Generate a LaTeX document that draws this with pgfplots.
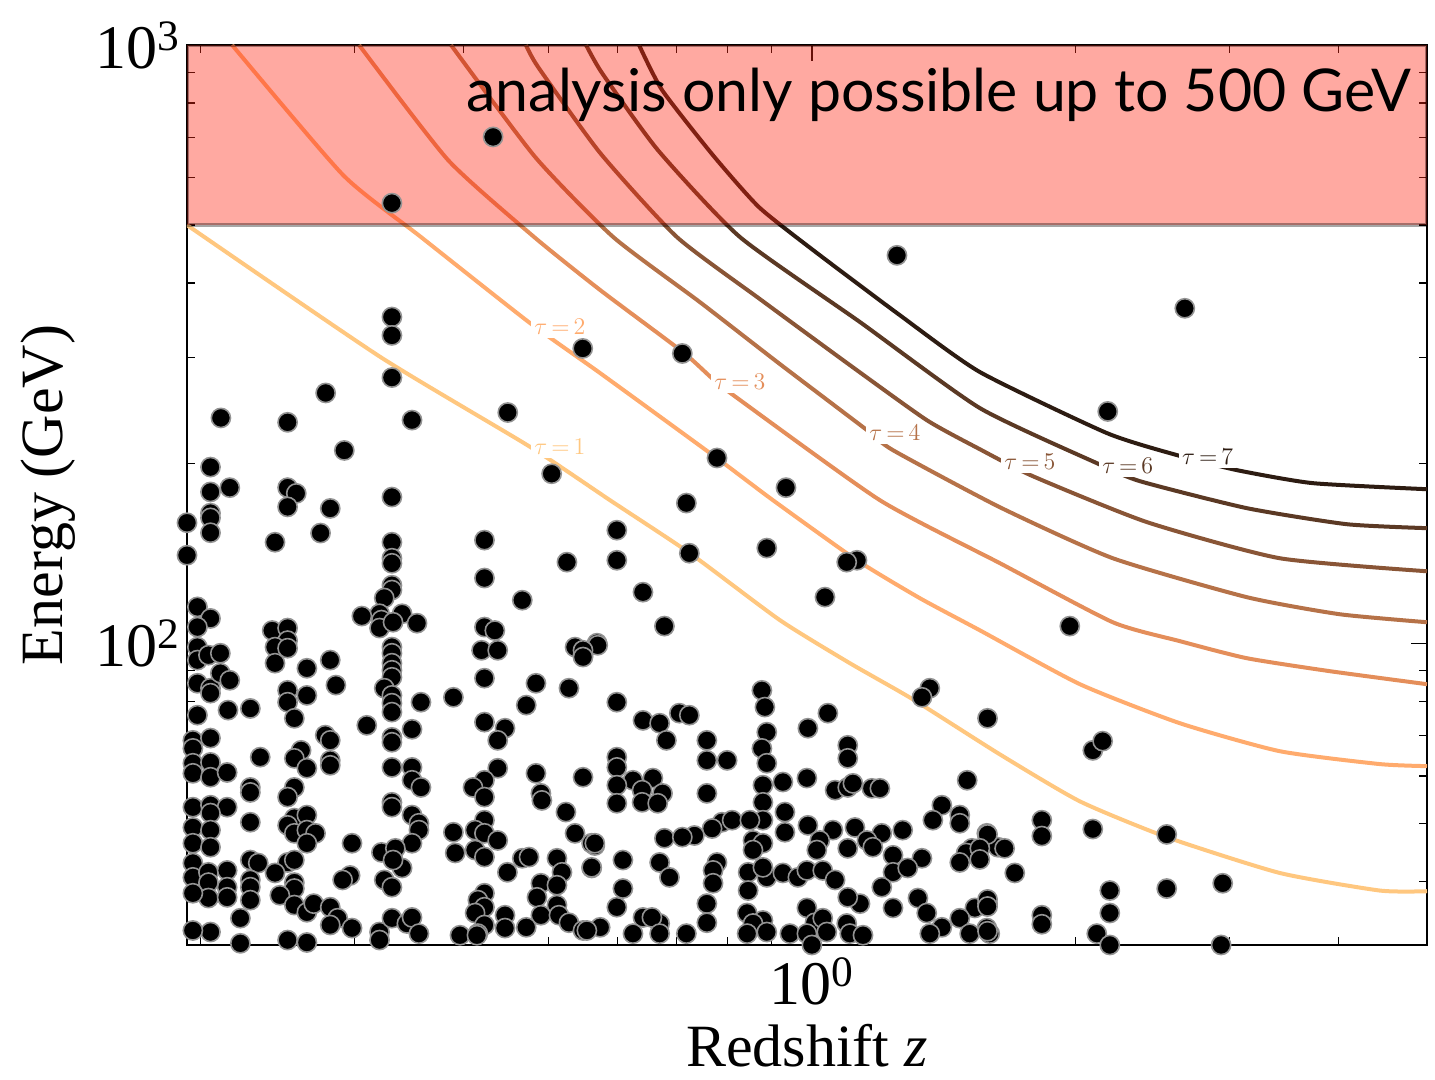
\documentclass[border=0pt]{standalone}
\usepackage[no-math]{fontspec}
\setmainfont{Liberation Serif}
\newfontfamily\gillfont{Lato}
\usepackage{pgfplots}
\pgfplotsset{compat=1.18}
\usetikzlibrary{calc}

\definecolor{tauA}{RGB}{255,199,127}
\definecolor{tauB}{RGB}{255,171,109}
\definecolor{tauC}{RGB}{228,142,90}
\definecolor{tauD}{RGB}{182,114,72}
\definecolor{tauE}{RGB}{137,85,54}
\definecolor{tauF}{RGB}{91,57,36}
\definecolor{tauG}{RGB}{45,28,18}
\definecolor{bandred}{RGB}{255,40,20}

\begin{document}
\begin{tikzpicture}
\begin{axis}[
  scale only axis,
  width=620pt, height=450pt,
  xmode=log, ymode=log,
  xmin=0.193, xmax=5.05,
  ymin=31.3, ymax=1000,
  xtick={1}, xticklabels={10\textsuperscript{0}},
  ytick={100,1000}, yticklabels={10\textsuperscript{2},10\textsuperscript{3}},
  minor xtick={0.2,0.3,0.4,0.5,0.6,0.7,0.8,0.9,2,3,4},
  minor ytick={40,50,60,70,80,90,200,300,400,500,600,700,800,900},
  major tick length=8pt, minor tick length=4pt,
  tick style={black, line width=0.6pt},
  axis line style={line width=1pt},
  tick align=inside,
  ticklabel style={font=\fontsize{31}{34}\selectfont},
  xticklabel style={yshift=-3pt},
  xlabel={Redshift \textit{z}},
  ylabel={Energy (GeV)},
  label style={font=\fontsize{30}{34}\selectfont},
  xlabel style={at={(axis description cs:0.5,-0.135)}, anchor=base, inner sep=1pt},
  ylabel style={at={(axis description cs:-0.112,0.5)}, anchor=center},
  clip=true,
  every axis plot/.append style={smooth, tension=0.35},
]
% tau contours
\addplot[tauA, line width=2pt] coordinates {(0.193,500) (0.321,301) (0.476,213) (0.5877,173.4) (0.7253,141.4) (0.919,109.3) (1.105,92.6) (1.304,80.6) (1.640,65.2) (2.025,54.4) (2.545,47.4) (3.426,41.3) (4.459,38.6) (5.05,38.5)};
\addplot[tauB, line width=2pt] coordinates {(0.2173,1000) (0.2911,606) (0.3573,477.5) (0.4762,342.8) (0.5727,282.8) (0.7786,203.9) (0.9025,173.4) (1.126,137.6) (1.329,118.9) (1.556,105.1) (2.025,85.4) (2.634,73.5) (3.426,66.0) (4.459,62.8) (5.05,62.3)};
\addplot[tauC, line width=2pt] coordinates {(0.3036,1000) (0.3837,642.3) (0.4813,477.5) (0.5727,389.4) (0.712,306.7) (0.7685,277.4) (0.8187,257.9) (1.196,173.4) (1.640,136.1) (2.208,108.4) (2.634,100.8) (3.141,94.4) (3.908,89.8) (5.05,85.4)};
\addplot[tauD, line width=2pt] coordinates {(0.3867,1000) (0.4826,649.7) (0.5927,477.5) (0.7447,371.7) (0.919,292.9) (1.156,227.1) (1.238,210.2) (1.640,168.8) (2.208,138.7) (3.141,119.4) (4.012,111.8) (5.05,108.4)};
\addplot[tauE, line width=2pt] coordinates {(0.471,1000) (0.4863,918.8) (0.5727,659.8) (0.7009,477.5) (0.872,376.1) (1.105,291.7) (1.353,236.0) (1.556,211.0) (1.789,190.2) (2.415,159.4) (3.426,138.7) (5.05,131.9)};
\addplot[tauF, line width=2pt] coordinates {(0.5518,1000) (0.5754,898) (0.6668,667) (0.8274,477.5) (1.135,344.2) (1.556,247.2) (2.117,200.0) (2.371,186.6) (3.141,168.2) (4.087,158.1) (5.05,155.7)};
\addplot[tauG, line width=2pt] coordinates {(0.6344,1000) (0.674,840.9) (0.7705,654.6) (0.8697,535.9) (1.003,454.1) (1.26,353.6) (1.556,284.0) (2.174,224.5) (2.613,206.3) (3.061,194.7) (3.737,185.2) (5.05,180.9)};
% sources
\addplot[only marks, mark=*, mark size=4.8pt, mark options={fill=black, draw=gray!85, line width=0.8pt}] coordinates {
(0.331,544) (0.432,702)
(1.251,445) (2.669,363) (0.331,351) (0.331,327) (0.547,311) (0.711,305) (0.331,278) (0.278,262) (0.449,243) (2.179,244) (0.211,238) (0.2515,234) (0.349,236) (0.292,210) (0.779,204) (0.2053,197) (0.504,192) (0.216,182) (0.934,182) (0.2053,179) (0.2515,182) (0.2573,178) (0.331,175.5) (0.7186,171.5) (0.2053,165) (0.2515,169) (0.2814,168) (0.193,159) (0.2053,162) (0.2053,153) (0.2433,147.5) (0.2743,152.8)
(0.331,147.5) (0.331,138.7) (0.331,136) (0.331,125) (0.331,122.7) (0.3244,119) (0.34,112) (0.3204,112) (0.322,109.3) (0.3204,106) (0.3058,111) (0.332,108.4) (0.3536,108)
(0.4223,148.7) (0.4223,128.5) (0.5247,136.6) (0.4665,118) (0.193,140.3) (0.1984,115) (0.2053,110) (0.1984,106.4) (0.2415,105) (0.2515,106) (0.2515,101) (0.2433,98.5) (0.2515,98.1) (0.2433,92.6) (0.4223,106.4) (0.434,105) (0.4191,97.3) (0.4373,97.3) (0.536,98.5) (0.5474,95.5) (0.568,100) (0.1984,98.5) (0.1984,93.7) (0.2042,95.5) (0.2107,96.2) (0.2814,93.7) (0.2646,90.8)
(0.331,98.5) (0.331,96.2) (0.331,92.6) (0.331,90.1) (0.331,87.7) (0.3244,84.1) (0.331,81.8) (0.331,79.4) (0.331,76.7) (0.331,69.6) (0.331,68.3)
(0.2856,85.1) (0.2515,83.4) (0.2515,79.7) (0.256,74.9) (0.2646,81.8) (0.4223,87.4) (0.4836,85.7) (0.5275,84.1) (0.1984,85.7) (0.2053,84.1) (0.2053,82.5) (0.2107,89.1) (0.216,86.7) (0.215,77.3) (0.228,77.8) (0.1984,75.8) (0.3573,79.7) (0.3892,81.2) (0.4714,78.8) (0.3098,72.9) (0.349,71.8) (0.4223,73.8) (0.4458,72.1) (0.4373,68.8) (0.196,68.8) (0.196,66.7) (0.2053,69.4) (0.2777,70.2) (0.2814,68.8) (0.234,64.5) (0.2606,66.2) (0.256,64.2) (0.2646,61.8) (0.2814,63.7) (0.2814,62.5) (0.331,62) (0.349,62) (0.349,59) (0.3573,57.4) (0.4836,60.6) (0.5474,59.7) (0.196,63) (0.196,60.6) (0.2053,63.2) (0.2053,59.7) (0.2145,60.8) (0.4373,61.8) (0.4223,59) (0.4097,57.4) (0.4223,55.3) (0.4899,56.1) (0.4912,54.6) (0.228,57.4) (0.228,56.3) (0.256,57.4) (0.2515,55.3) (0.331,54.2) (0.331,53.2) (0.5233,52.2) (0.196,53.2) (0.2053,53.6) (0.2145,53.2) (0.2053,52) (0.196,49.2) (0.2053,48.7) (0.196,46.3) (0.2053,45.6) (0.228,50.2) (0.256,51) (0.2646,51.6) (0.2515,49.6) (0.256,48.1) (0.2646,48.7) (0.2707,48.1) (0.2646,46.3) (0.349,51.6) (0.3554,50) (0.3554,48.7) (0.349,46.3) (0.4223,50.6) (0.412,48.7) (0.4223,48.1) (0.4373,46.8) (0.412,45.1) (0.4223,43.9) (0.3892,48.3) (0.391,44.6) (0.536,48.1) (0.5647,45.9) (0.298,46.3) (0.322,44.7) (0.334,45.4) (0.196,42.9) (0.196,40.6) (0.2042,41.4) (0.2042,39.8) (0.2145,41.7) (0.2145,39.1) (0.2042,37.5) (0.2145,37.6) (0.196,38.2) (0.228,43.4) (0.2328,42.9) (0.228,40.2) (0.228,39.1) (0.228,37.2) (0.2515,43) (0.256,43.4) (0.2433,41.3) (0.256,39.8) (0.256,38.9) (0.2464,37.9) (0.256,36.5) (0.2646,35.5) (0.2694,36.7) (0.2965,40.9) (0.2907,40.2) (0.3244,40.2) (0.331,39.1) (0.34,42.1) (0.332,43.4) (0.4665,43.7) (0.4749,43.9) (0.4486,41.4) (0.5111,43.7) (0.5179,41.4) (0.4899,39.7) (0.5111,39.4) (0.4849,37.6) (0.5111,36.5) (0.4899,35.1) (0.56,46.3) (0.56,42.1) (0.4223,38.2) (0.415,37.2) (0.4223,36.2) (0.412,35.4) (0.4223,33.8) (0.415,32.7) (0.4458,35.1) (0.4458,33.4) (0.4714,33.5) (0.5138,35.1) (0.5275,34.1) (0.5474,33.1) (0.2221,34.7) (0.2814,36.2) (0.287,34.7) (0.2814,33.8) (0.298,33.4) (0.3204,32.9) (0.331,34.7) (0.3443,34) (0.349,34.8) (0.3554,32.7) (0.396,32.5) (0.2053,32.9) (0.196,33.1) (0.2221,31.5) (0.2515,31.9) (0.2646,31.6) (0.3204,31.9) (0.414,32.5)
(0.5984,154.5) (0.5984,137.6) (0.7243,141.4) (0.888,144.2) (1.126,137.6) (1.096,136.6) (0.641,121.7) (1.035,119.4) (0.6783,106.8) (0.569,99.2) (0.5474,97.3) (0.5474,94.8) (0.8766,83.4) (0.8836,78.2) (1.364,84.1) (1.336,81.2) (0.5984,79.7) (1.043,76.4) (1.588,74.9) (0.641,74.3) (0.6698,73.5) (0.6818,68.8) (0.7055,76.4) (0.7243,75.8) (0.888,71) (0.8766,66.7) (0.888,63) (0.9895,72.1) (0.7585,68.8) (0.7585,63.7) (0.8,63.7) (1.099,67.5) (1.099,64.2) (0.5984,64.5) (0.5984,62) (0.9869,59.5) (0.9265,58.6) (1.505,59) (0.6244,59) (0.658,59.5) (0.6395,56.8) (0.6749,56.1) (0.5984,57.9) (0.5984,54) (0.6395,54.2) (0.6664,54) (0.7585,56.1) (0.879,57.9) (0.879,54.2) (0.879,50.6) (1.063,56.8) (1.099,57.4) (1.114,58.3) (1.171,57.2) (1.196,57.2) (0.9314,52.2) (0.9314,48.3) (0.9895,49.6) (1.408,53.6) (1.375,50.6) (1.476,51.6) (1.476,50) (1.27,48.7) (1.202,48.1) (1.585,48.1) (0.7895,50.2) (0.8106,50.6) (0.8494,50.6) (0.769,49) (1.057,48.7) (1.12,49.2) (0.734,47.7) (0.6783,47.2) (0.711,47.4) (0.5647,46.3) (0.8563,46.8) (0.879,46.3) (1.021,46.8) (1.013,45.1) (1.099,45.4) (1.156,46.8) (1.174,45.6) (1.524,45.4) (1.501,44.6) (1.632,45.6) (1.336,43.7) (1.238,44.2) (1.238,41.4) (1.287,42.1) (1.476,43) (0.56,42.2) (0.6698,43) (0.6873,40.6) (0.608,43.4) (0.608,38.9) (0.779,43) (0.771,41.7) (0.771,39.7) (0.8455,41.4) (0.8455,38.6) (0.888,40.6) (0.879,42.2) (0.8563,45.1) (0.9265,41.3) (0.9638,40.6) (0.9869,41.7) (1.029,41.7) (1.063,40.2) (1.202,39.1) (1.322,37.5) (1.135,36.7) (1.099,37.6) (1.238,36.1) (1.353,35.4) (1.536,36.1) (1.588,36.7) (1.476,34.7) (0.5984,36.2) (0.641,34.8) (0.6698,34) (0.6563,34.8) (0.7585,36.7) (0.7585,34.1) (0.8432,35.4) (0.879,34.4) (0.8563,34) (0.9869,36.1) (1.008,34.1) (1.029,34.7) (1.096,34) (1.408,33.5) (1.585,33.4) (0.5727,33.5) (0.553,33.1) (0.8432,32.7) (0.888,32.9) (0.9437,32.7) (0.9869,32.7) (1.040,32.9) (1.105,32.7) (1.144,32.5) (1.364,32.7) (1.515,32.7) (1.597,32.7) (0.6244,32.7) (0.6698,32.7) (0.7186,32.7)
(1.972,106.8) (2.095,66.2) (2.15,68.6) (1.832,50.6) (1.832,47.6) (1.588,47.9) (1.661,45.4) (1.556,45.4) (1.556,43.5) (2.095,48.9) (2.545,47.9) (1.706,41.3) (2.949,39.7) (2.191,38.6) (2.545,38.9) (1.588,37.3) (1.588,36.3) (1.832,35.1) (1.832,33.9) (2.191,35.4) (1.588,33) (2.117,32.7) (2.937,31.3) (2.191,31.3)
(0.2,31) (0.234,31) (0.26,30.8) (0.287,31) (0.31,30.9) (0.34,31) (0.375,31.2) (0.44,31.1) (0.47,31) (0.5,31.2) (0.536,31) (0.62,31) (0.65,31.2) (0.745,31) (0.8,31.2) (0.85,31) (0.93,31.1) (1.0,31.3) (1.08,31) (1.38,31) (1.5,31.2)
};
% band above 500 GeV
\addplot[sharp plot, draw=black, draw opacity=0.35, line width=1.8pt, fill=bandred, fill opacity=0.4] coordinates {(0.193,500) (5.05,500) (5.05,1000) (0.193,1000)} -- cycle;
% labels
\node[anchor=base east, font=\gillfont\fontsize{29.5}{35}\selectfont] at (axis cs:4.93,773) {analysis only possible up to 500 GeV};
\node[text=tauA, fill=white, inner sep=1.5pt, font=\fontsize{12}{14}\selectfont] at (axis cs:0.515,212.7) {$\tau\,{=}\,1$};
\node[text=tauB, fill=white, inner sep=1.5pt, font=\fontsize{12}{14}\selectfont] at (axis cs:0.515,337.7) {$\tau\,{=}\,2$};
\node[text=tauC, fill=white, inner sep=1.5pt, font=\fontsize{12}{14}\selectfont] at (axis cs:0.8274,273.3) {$\tau\,{=}\,3$};
\node[text=tauD, fill=white, inner sep=1.5pt, font=\fontsize{12}{14}\selectfont] at (axis cs:1.244,224.5) {$\tau\,{=}\,4$};
\node[text=tauE, fill=white, inner sep=1.5pt, font=\fontsize{12}{14}\selectfont] at (axis cs:1.775,200.8) {$\tau\,{=}\,5$};
\node[text=tauF, fill=white, inner sep=1.5pt, font=\fontsize{12}{14}\selectfont] at (axis cs:2.297,197.7) {$\tau\,{=}\,6$};
\node[text=tauG, fill=white, inner sep=1.5pt, font=\fontsize{12}{14}\selectfont] at (axis cs:2.835,204.6) {$\tau\,{=}\,7$};
\coordinate (SW) at (rel axis cs:0,0);
\coordinate (NE) at (rel axis cs:1,1);
\end{axis}
\pgfresetboundingbox
\path[use as bounding box] ($(SW)+(-93.5pt,-67.5pt)$) rectangle ($(NE)+(4pt,22.5pt)$);
\end{tikzpicture}
\end{document}
